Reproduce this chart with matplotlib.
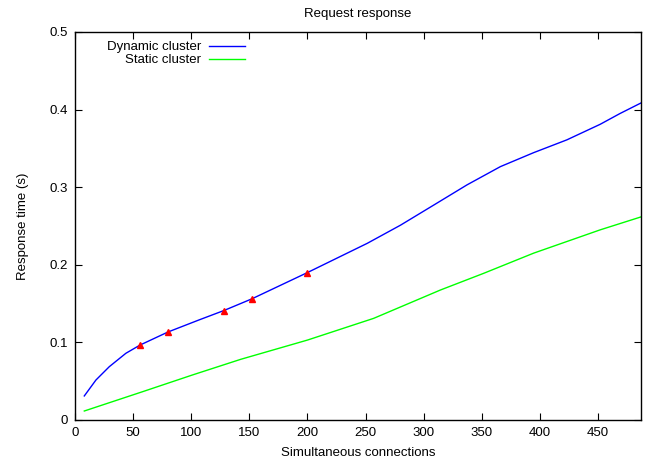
import numpy as np
import matplotlib
matplotlib.use('Agg')
import matplotlib.pyplot as plt

plt.rcParams['font.family'] = ['Liberation Sans', 'DejaVu Sans']

# values
dyn_x = [8, 18, 29.5, 43.8, 56, 80, 106.8, 128, 152, 200, 251.5, 280, 308.7,
         337.3, 366, 394.6, 423.2, 451.8, 469, 487.6]
dyn_y = [0.031, 0.0515, 0.0687, 0.086, 0.0966, 0.1134, 0.129, 0.141, 0.156,
         0.190, 0.2277, 0.251, 0.277, 0.303, 0.3265, 0.3445, 0.361, 0.381,
         0.395, 0.409]

sta_x = [8, 58.2, 101, 142.6, 200, 257, 314.4, 351.6, 394.6, 451.8, 487.6]
sta_y = [0.0116, 0.0365, 0.058, 0.0782, 0.103, 0.131, 0.1675, 0.189, 0.215,
         0.245, 0.262]

meas_x = [56, 80, 128, 152, 200]
meas_y = [0.0966, 0.1134, 0.141, 0.156, 0.190]

fig = plt.figure(figsize=(6.48, 4.62), dpi=100)
ax = fig.add_axes([75/648, 42/462, 566/648, 388/462])

ax.plot(dyn_x, dyn_y, color='#0000ff', lw=1.0, label='Dynamic cluster')
ax.plot(sta_x, sta_y, color='#00ff00', lw=1.0, label='Static cluster')
ax.plot(meas_x, meas_y, '^', color='#ff0000', ms=4, mec='#ff0000')

ax.set_xlim(0, 487)
ax.set_ylim(0, 0.5)
ax.set_xticks(np.arange(0, 451, 50))
ax.set_yticks([0, 0.1, 0.2, 0.3, 0.4, 0.5])
ax.set_yticklabels(['0', '0.1', '0.2', '0.3', '0.4', '0.5'])
ax.tick_params(direction='in', top=True, right=True, length=5, width=0.8,
               labelsize=9.5, pad=5)
for s in ax.spines.values():
    s.set_linewidth(1.0)

ax.set_xlabel('Simultaneous connections', fontsize=9.5, labelpad=6)
ax.set_ylabel('Response time (s)', fontsize=9.5, labelpad=15)
ax.set_title('Request response', fontsize=9.5, pad=11)

ax.legend(loc='upper left', bbox_to_anchor=(0.04, 1.0), frameon=False,
          markerfirst=False, fontsize=9.5, handlelength=2.75,
          labelspacing=0.05, handletextpad=0.6, borderaxespad=0.3)

fig.savefig('out.png', dpi=100)
